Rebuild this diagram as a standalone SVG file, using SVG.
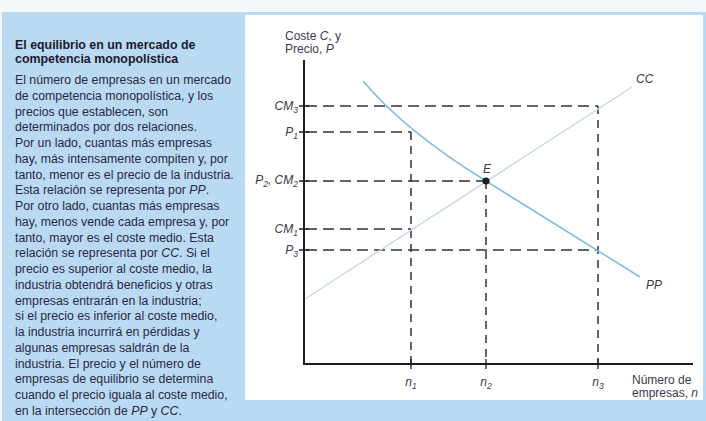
<svg xmlns="http://www.w3.org/2000/svg" width="706" height="421" viewBox="0 0 706 421">
<style>
.body{font-family:"Liberation Sans",Arial,sans-serif;font-size:12.3px;fill:#2b2846}
.title{font-family:"Liberation Sans",Arial,sans-serif;font-size:12.4px;font-weight:bold;fill:#1c1a2c}
.lab{font-family:"Liberation Sans",Arial,sans-serif;font-size:12px;fill:#3a3a4c}
.it{font-style:italic}
.sub{font-size:8.5px}
.axis{stroke:#1e1e24;stroke-width:2;fill:none}
.dash{stroke:#333338;stroke-width:1.5;fill:none;stroke-dasharray:11 6}
.vdash{stroke:#333338;stroke-width:1.5;fill:none;stroke-dasharray:8 6}
.tick{stroke:#1e1e24;stroke-width:1.3}
</style>
<g id="background">
<rect x="0" y="0" width="706" height="421" fill="#f4f8fb"/>
<rect x="2" y="12" width="704" height="409" fill="#b9daf2"/>
<rect x="245" y="15" width="458" height="385" fill="#ffffff"/>
</g>
<g id="text-panel">
<text class="title" x="15" y="49">El equilibrio en un mercado de</text>
<text class="title" x="15" y="63">competencia monopolística</text>
<text class="body" x="15" y="84">El número de empresas en un mercado</text>
<text class="body" x="15" y="99.75">de competencia monopolística, y los</text>
<text class="body" x="15" y="115.5">precios que establecen, son</text>
<text class="body" x="15" y="131.25">determinados por dos relaciones.</text>
<text class="body" x="15" y="147">Por un lado, cuantas más empresas</text>
<text class="body" x="15" y="162.75">hay, más intensamente compiten y, por</text>
<text class="body" x="15" y="178.5">tanto, menor es el precio de la industria.</text>
<text class="body" x="15" y="194.25">Esta relación se representa por <tspan class="it">PP</tspan>.</text>
<text class="body" x="15" y="210">Por otro lado, cuantas más empresas</text>
<text class="body" x="15" y="225.75">hay, menos vende cada empresa y, por</text>
<text class="body" x="15" y="241.5">tanto, mayor es el coste medio. Esta</text>
<text class="body" x="15" y="257.25">relación se representa por <tspan class="it">CC</tspan>. Si el</text>
<text class="body" x="15" y="273">precio es superior al coste medio, la</text>
<text class="body" x="15" y="288.75">industria obtendrá beneficios y otras</text>
<text class="body" x="15" y="304.5">empresas entrarán en la industria;</text>
<text class="body" x="15" y="320.25">si el precio es inferior al coste medio,</text>
<text class="body" x="15" y="336">la industria incurrirá en pérdidas y</text>
<text class="body" x="15" y="351.75">algunas empresas saldrán de la</text>
<text class="body" x="15" y="367.5">industria. El precio y el número de</text>
<text class="body" x="15" y="383.25">empresas de equilibrio se determina</text>
<text class="body" x="15" y="399">cuando el precio iguala al coste medio,</text>
<text class="body" x="15" y="414.75">en la intersección de <tspan class="it">PP</tspan> y <tspan class="it">CC</tspan>.</text>
</g>
<g id="connectors">
<path class="dash" d="M306,106 H598"/>
<path class="vdash" d="M598,106 V364"/>
<path class="dash" d="M306,132 H411"/>
<path class="vdash" d="M411,132 V364"/>
<path class="dash" d="M306,181 H486"/>
<path class="vdash" d="M486,181 V364"/>
<path class="dash" d="M306,229 H411"/>
<path class="dash" d="M306,250 H598"/>
</g>
<g id="curve-CC">
<path d="M305,299 L632,87" stroke="#c9d7e6" stroke-width="1.4" fill="none"/>
<text class="lab it" x="636" y="83">CC</text>
</g>
<g id="curve-PP">
<path d="M363,81 Q405,131 486,181 L640,277" stroke="#7fbce6" stroke-width="1.6" fill="none"/>
<text class="lab it" x="646" y="289">PP</text>
</g>
<g id="axes">
<path class="axis" d="M304,60 V364 H693"/>
<path class="tick" d="M299,106 H309 M299,132 H309 M299,181 H309 M299,229 H309 M299,250 H309"/>
<path class="tick" d="M411,359 V369 M486,359 V369 M598,359 V369"/>
<text class="lab" x="285" y="40">Coste <tspan class="it">C</tspan>, y</text>
<text class="lab" x="285" y="53">Precio, <tspan class="it">P</tspan></text>
<text class="lab" x="632" y="384">Número de</text>
<text class="lab" x="632" y="397">empresas, <tspan class="it">n</tspan></text>
</g>
<g id="y-labels" class="lab it" text-anchor="end">
<text x="298" y="110">CM<tspan class="sub" dy="3">3</tspan></text>
<text x="298" y="136">P<tspan class="sub" dy="3">1</tspan></text>
<text x="298" y="184">P<tspan class="sub" dy="3">2</tspan><tspan dy="-3">, CM</tspan><tspan class="sub" dy="3">2</tspan></text>
<text x="298" y="233">CM<tspan class="sub" dy="3">1</tspan></text>
<text x="298" y="254">P<tspan class="sub" dy="3">3</tspan></text>
</g>
<g id="x-labels" class="lab it" text-anchor="middle">
<text x="411" y="386">n<tspan class="sub" dy="3">1</tspan></text>
<text x="486" y="386">n<tspan class="sub" dy="3">2</tspan></text>
<text x="598" y="386">n<tspan class="sub" dy="3">3</tspan></text>
</g>
<g id="node-E">
<circle cx="486" cy="181" r="3.6" fill="#1e1e28"/>
<text class="lab it" x="483" y="173">E</text>
</g>
</svg>
